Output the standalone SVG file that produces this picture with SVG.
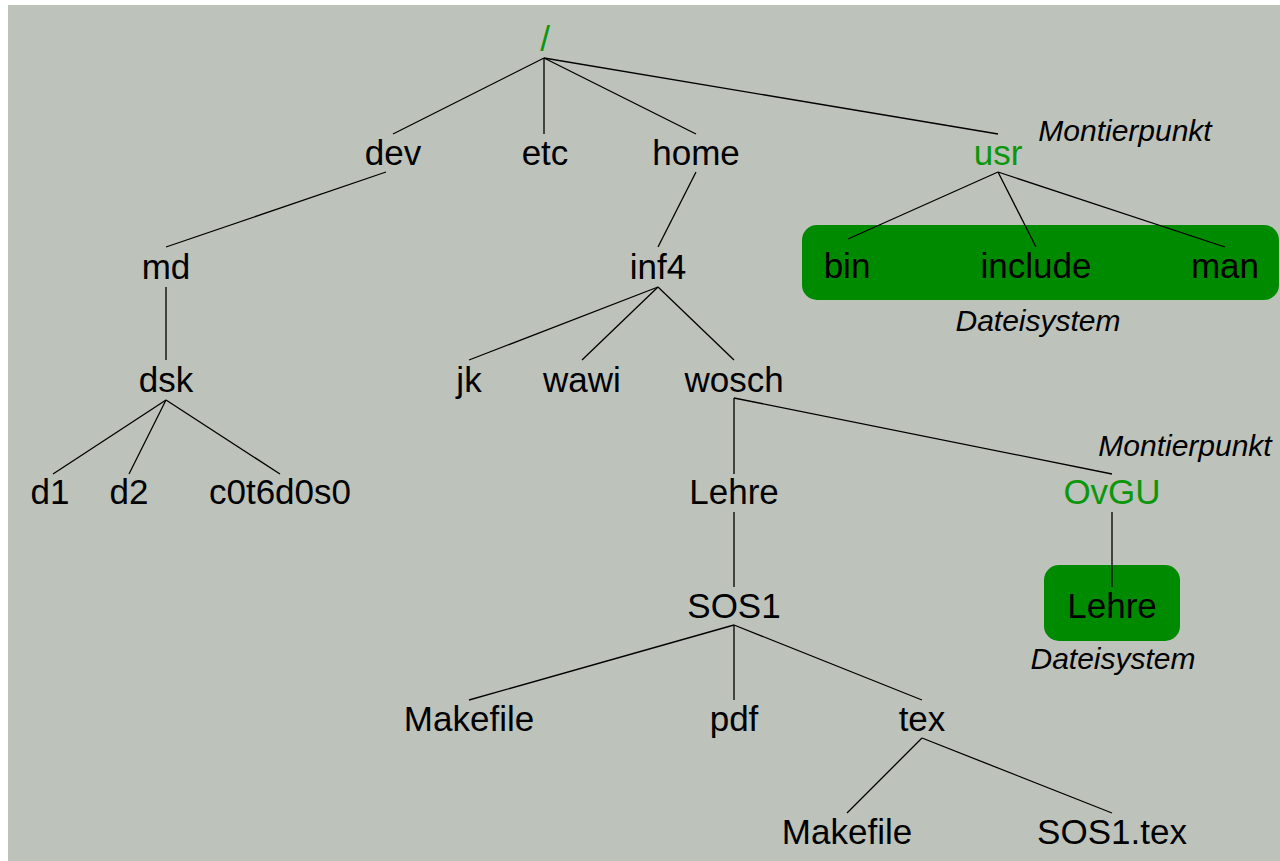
<svg xmlns="http://www.w3.org/2000/svg" width="1280" height="861" viewBox="0 0 1280 861">
<style>
text{font-family:"Liberation Sans",Arial,sans-serif;font-size:35px;fill:#000;text-anchor:middle}
.g{fill:#0c960c}
.i{font-style:italic;font-size:30px}
.box{fill:#008a00}
#connectors line{stroke:#000;stroke-width:1.3}
</style>
<rect x="8" y="5" width="1272" height="856" fill="#bdc2bb"/>
<g id="boxes">
<rect class="box" x="802" y="225" width="477" height="75" rx="15"/>
<rect class="box" x="1044" y="565" width="136" height="76" rx="15"/>
</g>
<g id="connectors">
<line x1="544" y1="58" x2="393" y2="134"/>
<line x1="544" y1="58" x2="544" y2="134"/>
<line x1="544" y1="58" x2="696" y2="134"/>
<line x1="544" y1="58" x2="998" y2="134"/>
<line x1="386" y1="172" x2="166" y2="247"/>
<line x1="696" y1="172" x2="658" y2="247"/>
<line x1="998" y1="172" x2="848" y2="239"/>
<line x1="998" y1="172" x2="1036" y2="247"/>
<line x1="998" y1="172" x2="1225" y2="247"/>
<line x1="166" y1="287" x2="166" y2="360"/>
<line x1="658" y1="287" x2="469" y2="360"/>
<line x1="658" y1="287" x2="582" y2="360"/>
<line x1="658" y1="287" x2="734" y2="360"/>
<line x1="166" y1="400" x2="53" y2="474"/>
<line x1="166" y1="400" x2="129" y2="474"/>
<line x1="166" y1="400" x2="280" y2="474"/>
<line x1="734" y1="398" x2="734" y2="474"/>
<line x1="734" y1="398" x2="1112" y2="474"/>
<line x1="734" y1="512" x2="734" y2="587"/>
<line x1="1112" y1="512" x2="1112" y2="587"/>
<line x1="734" y1="625" x2="469" y2="700"/>
<line x1="734" y1="625" x2="734" y2="700"/>
<line x1="734" y1="625" x2="922" y2="700"/>
<line x1="922" y1="738" x2="847" y2="813"/>
<line x1="922" y1="738" x2="1112" y2="813"/>
</g>
<g id="n-root"><text class="g" x="545" y="51">/</text></g>
<g id="n-dev"><text x="393" y="165">dev</text></g>
<g id="n-etc"><text x="545" y="165">etc</text></g>
<g id="n-home"><text x="696" y="165">home</text></g>
<g id="n-usr"><text class="g" x="998" y="165">usr</text></g>
<g id="l-mount1"><text class="i" x="1125" y="141">Montierpunkt</text></g>
<g id="n-md"><text x="166" y="279">md</text></g>
<g id="n-inf4"><text x="658" y="279">inf4</text></g>
<g id="n-bin"><text x="847" y="278">bin</text></g>
<g id="n-include"><text x="1036" y="278">include</text></g>
<g id="n-man"><text x="1225" y="278">man</text></g>
<g id="l-fs1"><text class="i" x="1038" y="331">Dateisystem</text></g>
<g id="n-dsk"><text x="166" y="392">dsk</text></g>
<g id="n-jk"><text x="469" y="392">jk</text></g>
<g id="n-wawi"><text x="582" y="392">wawi</text></g>
<g id="n-wosch"><text x="734" y="392">wosch</text></g>
<g id="n-d1"><text x="50" y="504">d1</text></g>
<g id="n-d2"><text x="129" y="504">d2</text></g>
<g id="n-c0t6d0s0"><text x="280" y="504">c0t6d0s0</text></g>
<g id="l-mount2"><text class="i" x="1185" y="456">Montierpunkt</text></g>
<g id="n-lehre"><text x="734" y="504">Lehre</text></g>
<g id="n-ovgu"><text class="g" x="1112" y="504">OvGU</text></g>
<g id="n-sos1"><text x="734" y="618">SOS1</text></g>
<g id="n-lehre2"><text x="1112" y="618">Lehre</text></g>
<g id="l-fs2"><text class="i" x="1113" y="669">Dateisystem</text></g>
<g id="n-makefile1"><text x="469" y="731">Makefile</text></g>
<g id="n-pdf"><text x="734" y="731">pdf</text></g>
<g id="n-tex"><text x="922" y="731">tex</text></g>
<g id="n-makefile2"><text x="847" y="844">Makefile</text></g>
<g id="n-sos1tex"><text x="1112" y="844">SOS1.tex</text></g>
</svg>
